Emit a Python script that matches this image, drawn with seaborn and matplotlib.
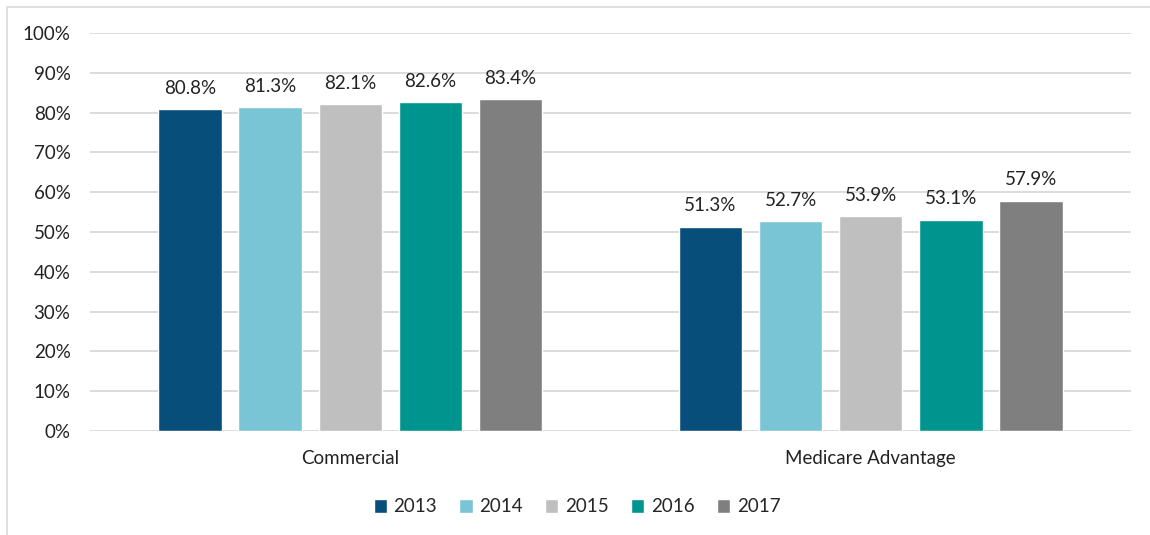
""" Grouped bar chart: share by plan type, 2013-2017 """
import pandas as pd
import matplotlib.pyplot as plt
import seaborn as sns
from matplotlib.patches import Rectangle

categories = ['Commercial', 'Medicare Advantage']
years = ['2013', '2014', '2015', '2016', '2017']
commercial = [80.8, 81.3, 82.1, 82.6, 83.4]
medicare_advantage = [51.3, 52.7, 53.9, 53.1, 57.9]
colors = ['#074E7A', '#79C4D5', '#BFBFBF', '#00948F', '#7F7F7F']

""" Long-form table for seaborn """
df = pd.DataFrame({
    'category': [c for c in categories for _ in years],
    'year': years * len(categories),
    'value': commercial + medicare_advantage,
})

sns.set_style('white')
plt.rcParams['font.family'] = ['Lato', 'DejaVu Sans']
fs = 13.5

fig = plt.figure(figsize=(11.5, 5.35), dpi=100)
ax = fig.add_axes([90 / 1150, 1 - 431 / 535, (1131 - 90) / 1150, (431 - 33) / 535])

""" Outer chart frame, partly cut off at the image edges """
fig.patches.append(Rectangle((7 / 1150, -0.05), 1.2, 1 - 7 / 535 + 0.05,
                             transform=fig.transFigure, fill=False,
                             edgecolor='#D9D9D9', linewidth=1.2, zorder=0))

sns.barplot(data=df, x='category', y='value', hue='year', palette=colors,
            width=0.77, gap=0.21, ax=ax, saturation=1, zorder=3)

for container in ax.containers:
    ax.bar_label(container, labels=[f'{v:.1f}%' for v in container.datavalues],
                 padding=9, fontsize=fs, color='#222222')

ax.set_ylim(0, 100)
ax.set_xlim(-0.5, 1.5)
ax.set_yticks(range(0, 101, 10))
ax.set_yticklabels([f'{t}%' for t in range(0, 101, 10)], fontsize=fs, color='#222222')
ax.tick_params(axis='x', labelsize=fs, colors='#222222', length=0, pad=14)
ax.tick_params(axis='y', length=0, pad=14)
ax.yaxis.grid(True, color='#D9D9D9', linewidth=1.3, zorder=0)
ax.set_axisbelow(True)
for spine in ax.spines.values():
    spine.set_visible(False)
ax.set(xlabel=None, ylabel=None)

handles, labels = ax.get_legend_handles_labels()
ax.legend(handles, labels, loc='center', bbox_to_anchor=(577 / 1150, 1 - 507 / 535),
          bbox_transform=fig.transFigure, ncol=5, frameon=False, fontsize=fs,
          handlelength=0.7, handleheight=0.7, handletextpad=0.35, columnspacing=1.2)

fig.savefig('out.png', dpi=100)
